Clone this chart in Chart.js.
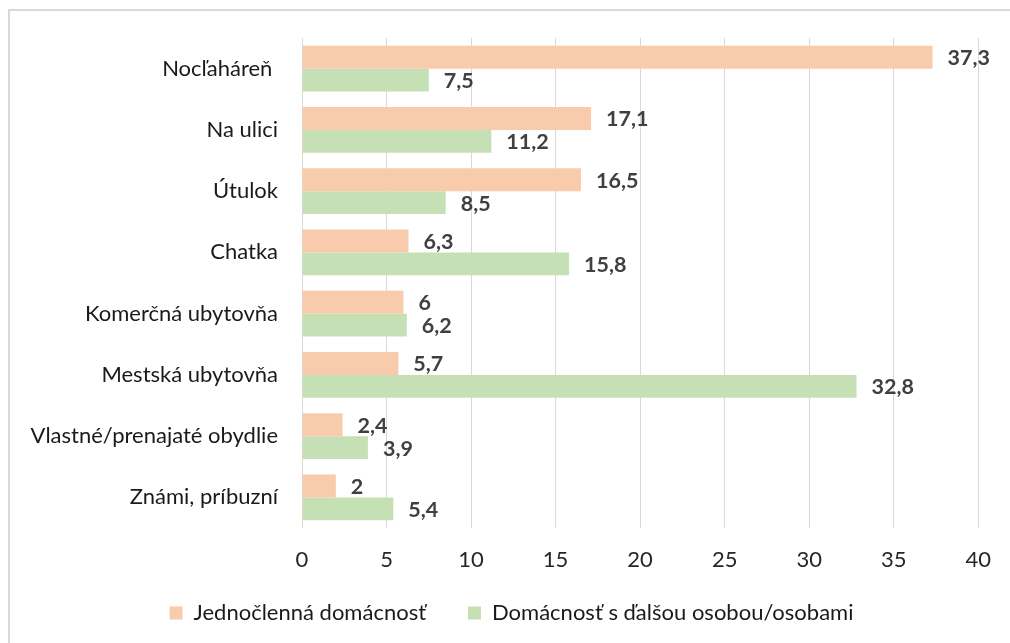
<!DOCTYPE html>
<html>
<head>
<meta charset="utf-8">
<script src="https://cdn.jsdelivr.net/npm/chart.js@4/dist/chart.umd.min.js"></script>
<style>
  html, body { margin: 0; padding: 0; background: #fff; }
  #wrap { position: relative; width: 1010px; height: 643px; overflow: hidden; }
  #frame { position: absolute; left: 8px; top: 9px; width: 1100px; height: 700px; border: 2px solid #d9d9d9; }
  canvas { position: absolute; left: 0; top: 0; }
</style>
</head>
<body>
<div id="wrap">
  <div id="frame"></div>
  <canvas id="barChart" width="1010" height="643"></canvas>
</div>
<script>
// Categories and series values
const categories = [
    'Nocľaháreň ',
    'Na ulici',
    'Útulok',
    'Chatka',
    'Komerčná ubytovňa',
    'Mestská ubytovňa',
    'Vlastné/prenajaté obydlie',
    'Známi, príbuzní'
];
const singleHousehold = [37.3, 17.1, 16.5, 6.3, 6, 5.7, 2.4, 2];
const sharedHousehold = [7.5, 11.2, 8.5, 15.8, 6.2, 32.8, 3.9, 5.4];
const seriesNames = ['Jednočlenná domácnosť', 'Domácnosť s ďalšou osobou/osobami'];
const xTicks = [0, 5, 10, 15, 20, 25, 30, 35, 40];

const fontFamily = 'Lato, "Open Sans", sans-serif';

// Value labels at the end of each bar
const valueLabels = {
    id: 'valueLabels',
    afterDatasetsDraw(chart) {
        const ctx = chart.ctx;
        ctx.save();
        ctx.font = 'bold 21.5px ' + fontFamily;
        ctx.fillStyle = '#404040';
        ctx.textAlign = 'left';
        ctx.textBaseline = 'middle';
        chart.data.datasets.forEach(function(ds, i) {
            chart.getDatasetMeta(i).data.forEach(function(bar, j) {
                const text = String(ds.data[j]).replace('.', ',');
                ctx.fillText(text, bar.x + 15, bar.y + 1);
            });
        });
        ctx.restore();
    }
};

// Nudge legend to sit where the original has it
const legendShift = {
    id: 'legendShift',
    afterLayout(chart) {
        const lg = chart.legend;
        lg.left += 21;
        lg.right += 21;
        lg.top -= 18;
        lg.bottom -= 18;
    }
};

const ctx = document.getElementById('barChart').getContext('2d');
const barChart = new Chart(ctx, {
    type: 'bar',
    data: {
        labels: categories,
        datasets: [{
            label: seriesNames[0],
            backgroundColor: '#f8cbad',
            data: singleHousehold
        }, {
            label: seriesNames[1],
            backgroundColor: '#c5e0b4',
            data: sharedHousehold
        }]
    },
    options: {
        indexAxis: 'y',
        responsive: false,
        animation: false,
        layout: {
            padding: { top: 38, right: 29, bottom: 0, left: 0 }
        },
        datasets: {
            bar: {
                categoryPercentage: 0.75,
                barPercentage: 1
            }
        },
        scales: {
            x: {
                min: 0,
                max: 40,
                afterBuildTicks: function(scale) {
                    scale.ticks = xTicks.map(v => ({ value: v }));
                },
                afterFit: function(scale) {
                    scale.height = 50;
                },
                grid: {
                    color: '#d9d9d9',
                    lineWidth: 1,
                    drawTicks: false
                },
                border: { display: false },
                ticks: {
                    padding: 19,
                    color: '#262626',
                    font: { family: fontFamily, size: 22 }
                }
            },
            y: {
                afterFit: function(scale) {
                    scale.width = 302;
                },
                grid: { display: false },
                border: { display: false },
                ticks: {
                    padding: 16,
                    color: '#1a1a1a',
                    font: { family: fontFamily, size: 22 }
                }
            }
        },
        plugins: {
            legend: {
                position: 'bottom',
                align: 'center',
                maxHeight: 65,
                labels: {
                    boxWidth: 13,
                    boxHeight: 13,
                    padding: 42,
                    color: '#1a1a1a',
                    font: { family: fontFamily, size: 22 }
                }
            },
            tooltip: { enabled: false }
        }
    },
    plugins: [valueLabels, legendShift]
});
</script>
</body>
</html>
